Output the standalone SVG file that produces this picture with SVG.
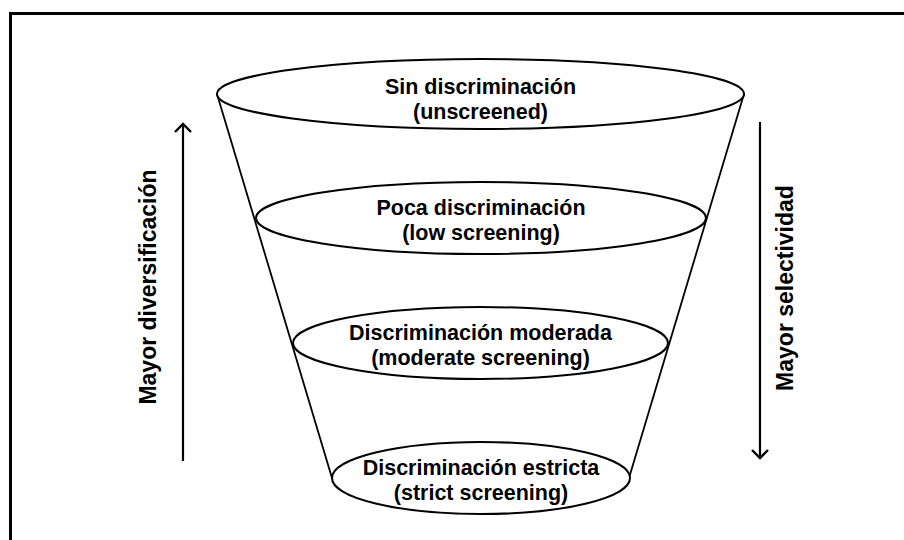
<svg xmlns="http://www.w3.org/2000/svg" width="904" height="540" viewBox="0 0 904 540">
<style>
.frame{stroke:#000;stroke-width:3;fill:none}
.ell{fill:#fff;stroke:#000;stroke-width:2}
.ln{stroke:#000;stroke-width:1.8;fill:none}
.t{font-family:"Liberation Sans",Arial,sans-serif;font-weight:bold;font-size:21.5px;fill:#000;text-anchor:middle}
.side{font-family:"Liberation Sans",Arial,sans-serif;font-weight:bold;font-size:23px;fill:#000;text-anchor:middle}
.arr{stroke:#000;stroke-width:2.2;fill:none}
</style>
<defs>
<marker id="head" viewBox="0 0 20 20" refX="10" refY="10" markerWidth="20" markerHeight="20" markerUnits="userSpaceOnUse" orient="auto">
<path d="M2,2 L10,10 L2,18" stroke="#000" stroke-width="2.4" fill="none"/>
</marker>
</defs>
<rect width="904" height="540" fill="#fff"/>
<path class="frame" d="M10.5,540 V13.5 H904"/>
<g id="connectors">
<line class="ln" x1="217" y1="94" x2="332" y2="478"/>
<line class="ln" x1="744" y1="94" x2="629" y2="478"/>
<line class="arr" x1="183" y1="461" x2="183" y2="124" marker-end="url(#head)"/>
<line class="arr" x1="760" y1="122" x2="760" y2="458" marker-end="url(#head)"/>
</g>
<g id="node-sin">
<ellipse class="ell" cx="480.5" cy="94" rx="263.5" ry="35"/>
<text class="t" x="480.5" y="94">Sin discriminación</text>
<text class="t" x="480.5" y="119">(unscreened)</text>
</g>
<g id="node-poca">
<ellipse class="ell" cx="481" cy="218" rx="225" ry="36"/>
<text class="t" x="481" y="215">Poca discriminación</text>
<text class="t" x="481" y="240">(low screening)</text>
</g>
<g id="node-moderada">
<ellipse class="ell" cx="480.5" cy="343" rx="187.5" ry="36"/>
<text class="t" x="480.5" y="340">Discriminación moderada</text>
<text class="t" x="480.5" y="365">(moderate screening)</text>
</g>
<g id="node-estricta">
<ellipse class="ell" cx="481" cy="478" rx="149" ry="36"/>
<text class="t" x="481" y="475">Discriminación estricta</text>
<text class="t" x="481" y="500">(strict screening)</text>
</g>
<g id="label-left">
<text class="side" transform="translate(156,287) rotate(-90)">Mayor diversificación</text>
</g>
<g id="label-right">
<text class="side" transform="translate(793,288) rotate(-90)">Mayor selectividad</text>
</g>
</svg>
